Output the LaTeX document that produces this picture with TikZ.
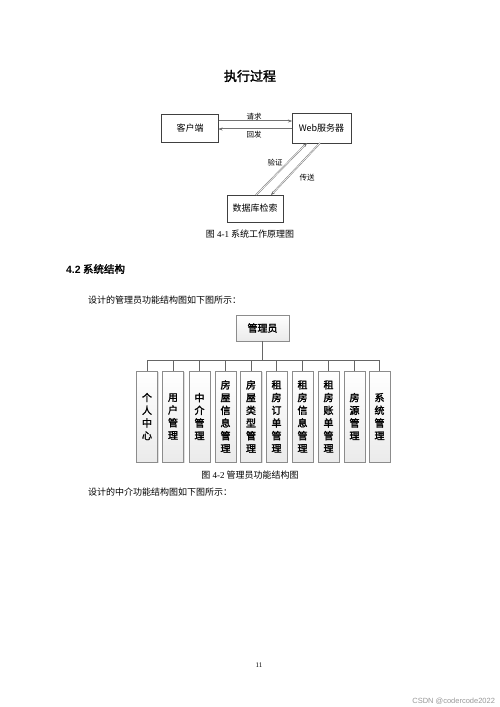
\documentclass[tikz,border=0pt]{standalone}
\usepackage{fontspec}
\setmainfont{Liberation Serif}
\newfontfamily\cjk{Noto Sans CJK SC}
\newfontfamily\cjkb{Noto Sans CJK SC}[FakeBold=2]
\usetikzlibrary{arrows.meta,shadows}
\begin{document}
\begin{tikzpicture}[x=1pt,y=-1pt,
  every node/.style={inner sep=0pt,outer sep=0pt},
  plainbox/.style={draw=black!75,line width=0.5pt,minimum width=57pt,minimum height=28pt,font=\cjk\fontsize{9}{9}\selectfont},
  gradbox/.style={draw=black!45,line width=0.5pt,top color=white,bottom color=black!8,
     drop shadow={shadow xshift=1pt,shadow yshift=-1pt,opacity=0.25}},
  leafbox/.style={gradbox,minimum width=21pt,minimum height=91pt,align=center,
     font=\cjkb\fontsize{10}{12.7}\selectfont},
  flowarrow/.style={draw=black!55,line width=0.5pt,double=white,double distance=0.6pt,-{Stealth[length=4pt,width=3pt,fill=black]}},
  lbl/.style={font=\cjk\fontsize{7.5}{8}\selectfont},
  body/.style={font=\cjk\fontsize{9}{10}\selectfont,anchor=west},
  tree/.style={draw=black!60,line width=0.6pt}]
\useasboundingbox[fill=white] (0,0) rectangle (500,707);
% Title
\node[font=\cjkb\fontsize{13}{13}\selectfont] (title) at (250,76) {执行过程};
% Figure 4-1
\node[plainbox] (client) at (190,128) {客户端};
\node[plainbox,minimum width=59pt,minimum height=30pt] (server) at (321.5,128) {\fontsize{9}{9}\selectfont Web\cjk 服务器};
\node[plainbox,minimum width=56pt,minimum height=27pt] (db) at (255,208.5) {数据库检索};
\draw[flowarrow] ([yshift=7pt]client.east) -- ([yshift=7pt]server.west);
\draw[flowarrow] ([yshift=-1pt]server.west) -- ([yshift=-1pt]client.east);
\node[lbl] (req) at (254,116.5) {请求};
\node[lbl] (resp) at (254,134.5) {回发};
\draw[flowarrow] ([xshift=1pt]db.north) -- ([xshift=-14.5pt]server.south);
\draw[flowarrow] ([xshift=-1.5pt]server.south) -- ([xshift=16pt]db.north);
\node[lbl] (verify) at (275,163) {验证};
\node[lbl] (send) at (307,178) {传送};
\node[font=\cjk\fontsize{9}{9}\selectfont] (cap1) at (250,234) {图 {\rmfamily 4-1} 系统工作原理图};
% Section heading
\node[font=\cjkb\fontsize{10.5}{11}\selectfont,anchor=west] (sec) at (66,269) {{\fontspec{Liberation Sans}\bfseries 4.2} 系统结构};
\node[body] (p1) at (88,300) {设计的管理员功能结构图如下图所示：};
% Figure 4-2
\node[gradbox,minimum width=53pt,minimum height=26pt,font=\cjkb\fontsize{10}{10}\selectfont] (admin) at (262.5,328) {管理员};
\coordinate (hub) at (262.5,360);
\draw[tree] (admin.south) -- (hub);
\foreach \i/\x/\t in {1/147/{个\\人\\中\\心},2/173/{用\\户\\管\\理},3/199.5/{中\\介\\管\\理},
  4/225.5/{房\\屋\\信\\息\\管\\理},5/251/{房\\屋\\类\\型\\管\\理},6/276.5/{租\\房\\订\\单\\管\\理},
  7/302.5/{租\\房\\信\\息\\管\\理},8/328.5/{租\\房\\账\\单\\管\\理},9/354.5/{房\\源\\管\\理},10/379.5/{系\\统\\管\\理}}{
  \node[leafbox] (leaf\i) at (\x,416.5) {\t};
  \coordinate (top\i) at (\x,360);
  \draw[tree] (top\i) -- (leaf\i.north);
}
\draw[tree] (top1) -- (top10);
\node[font=\cjk\fontsize{9}{9}\selectfont] (cap2) at (250,475) {图 {\rmfamily 4-2} 管理员功能结构图};
\node[body] (p2) at (88,492) {设计的中介功能结构图如下图所示：};
% Footer
\node[font=\fontsize{7}{7}\selectfont] (page) at (259,665) {11};
\node[font=\fontspec{Liberation Sans}\fontsize{7.5}{8}\selectfont,text=black!40,anchor=east] (wm) at (495,701) {CSDN @codercode2022};
\end{tikzpicture}
\end{document}
